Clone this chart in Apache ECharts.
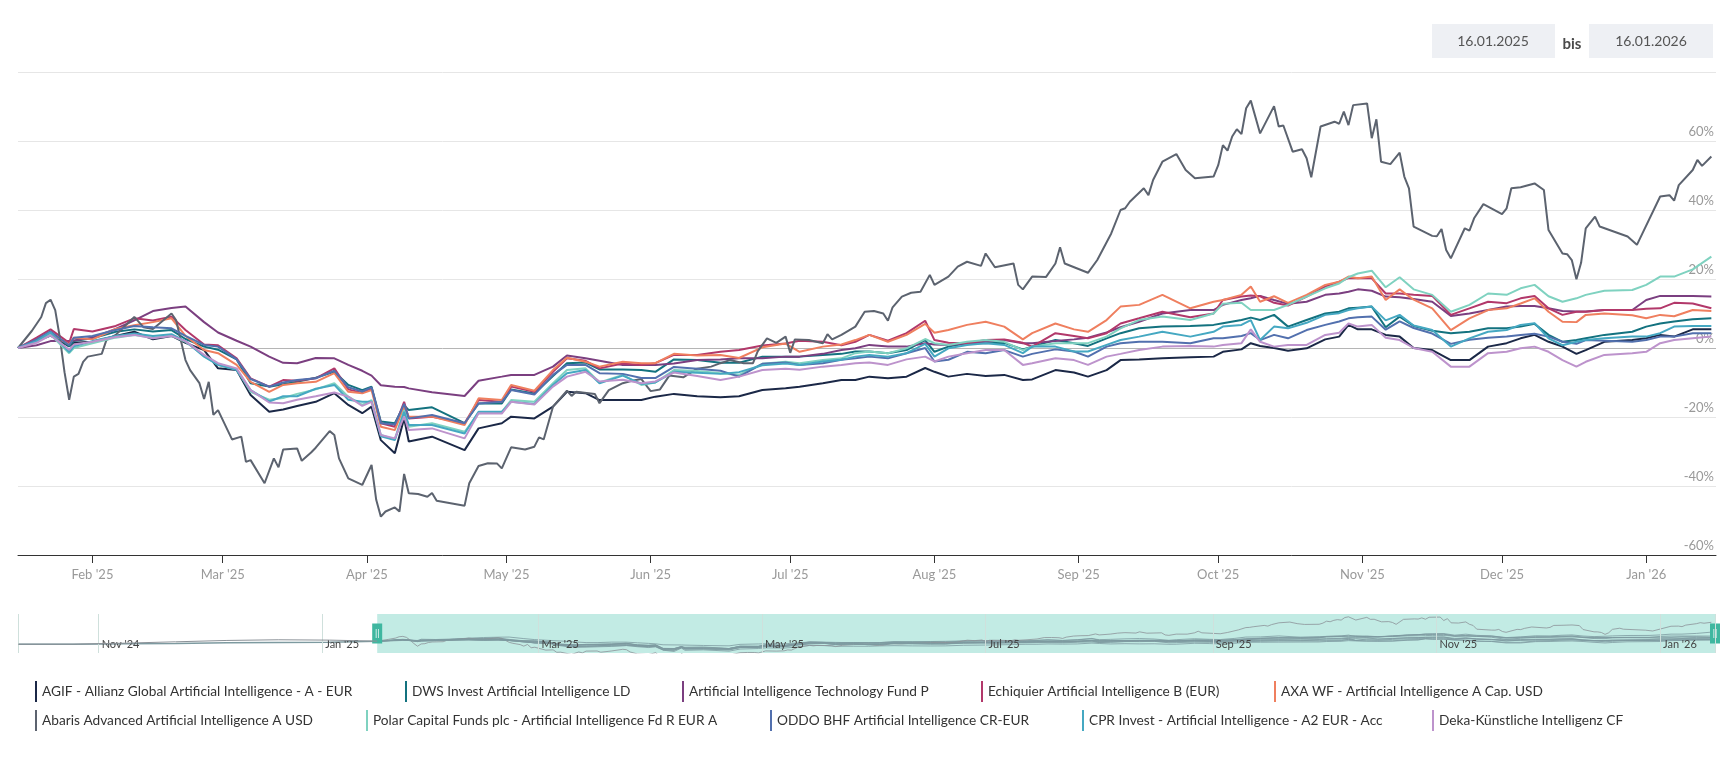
<!DOCTYPE html>
<html>
<head>
<meta charset="utf-8">
<title>KI-Fonds Vergleich</title>
<script src="https://cdn.jsdelivr.net/npm/echarts@6/dist/echarts.min.js"></script>
<style>
  html, body { margin: 0; padding: 0; background: #fff; }
  #main { width: 1725px; height: 767px; }
</style>
</head>
<body>
<div id="main"></div>
<script>
// fund names (legend order) and colours
var fundNames = [
  'AGIF - Allianz Global Artificial Intelligence - A - EUR',
  'DWS Invest Artificial Intelligence LD',
  'Artificial Intelligence Technology Fund P',
  'Echiquier Artificial Intelligence B (EUR)',
  'AXA WF - Artificial Intelligence A Cap. USD',
  'Abaris Advanced Artificial Intelligence A USD',
  'Polar Capital Funds plc - Artificial Intelligence Fd R EUR A',
  'ODDO BHF Artificial Intelligence CR-EUR',
  'CPR Invest - Artificial Intelligence - A2 EUR - Acc',
  'Deka-Künstliche Intelligenz CF'
];
var fundColors = ['#1b2847', '#13727f', '#7b3f80', '#b2386a', '#ef7f5f',
                  '#5c636f', '#7fd2c0', '#5270ae', '#45a8c2', '#bd93cc'];

// shared dates for the nine "bundle" funds
var dates = [
  '2025-01-16','2025-01-20','2025-01-23','2025-01-27','2025-01-28',
  '2025-02-01','2025-02-06','2025-02-10','2025-02-14','2025-02-18','2025-02-21','2025-02-25','2025-02-28',
  '2025-03-04','2025-03-07','2025-03-11','2025-03-14','2025-03-17','2025-03-21','2025-03-25','2025-03-28','2025-03-31',
  '2025-04-02','2025-04-04','2025-04-07','2025-04-09','2025-04-10','2025-04-15','2025-04-22','2025-04-25','2025-04-30',
  '2025-05-02','2025-05-07','2025-05-11','2025-05-14','2025-05-18','2025-05-21','2025-05-26','2025-05-30',
  '2025-06-02','2025-06-06','2025-06-11','2025-06-16','2025-06-20','2025-06-25','2025-06-30',
  '2025-07-03','2025-07-08','2025-07-12','2025-07-15','2025-07-18','2025-07-22','2025-07-26','2025-07-30',
  '2025-08-01','2025-08-04','2025-08-08','2025-08-12','2025-08-16','2025-08-20','2025-08-22','2025-08-27','2025-08-31',
  '2025-09-03','2025-09-07','2025-09-10','2025-09-14','2025-09-19','2025-09-25','2025-09-30',
  '2025-10-02','2025-10-06','2025-10-08','2025-10-10','2025-10-13','2025-10-16','2025-10-20','2025-10-24','2025-10-27','2025-10-29','2025-10-31',
  '2025-11-03','2025-11-06','2025-11-09','2025-11-12','2025-11-16','2025-11-20','2025-11-24','2025-11-28',
  '2025-12-02','2025-12-05','2025-12-08','2025-12-11','2025-12-14','2025-12-17','2025-12-19','2025-12-23','2025-12-29',
  '2026-01-01','2026-01-04','2026-01-07','2026-01-11','2026-01-15'
];

var agif = [
  0, 2, 3.6, 0.5, 1.5,
  1.8, 3.5, 4.7, 2.5, 3.5, 1.5, -0.6, -5.9,
  -6.4, -13.6, -18.5, -17.8, -16.8, -15.6, -13.1, -16.5, -18.9,
  -17, -26.7, -30.5, -20.4, -27.1, -25.7, -29.6, -23.3, -21.8,
  -19.9, -20.4, -17, -12.7, -13.1, -15.1, -15.1, -15.1,
  -14.1, -13.3, -14, -14.3, -14, -12.2, -11.7,
  -11.2, -10.2, -9.3, -9.3, -8.3, -8.8, -8.3, -5.8,
  -6.9, -8.3, -7.5, -8.1, -7.8, -9.3, -9.1, -6.4, -7.1,
  -8.3, -6.4, -3.5, -3.3, -3, -2.7, -2.5,
  -1.1, -0.4, 1.4, 0.6, 0, -0.8, -0.1, 2.5, 3.3, 6.7, 5.4,
  5.4, 3.8, 3.3, 0, -0.6, -3.5, -3.5, 0.4,
  1.4, 2.8, 3.8, 1.8, 0.4, -1.7, -0.6, 1.8, 2.3,
  2.8, 3.8, 3.3, 5.4, 5.4
];
var dws = [
  0, 2.5, 4.3, 0.5, 2,
  2.8, 4.7, 5.4, 4.8, 5.2, 2.6, 0.4, -0.5,
  -3.3, -10.2, -11.2, -10.5, -9.8, -8.6, -6.9, -10.7, -12.2,
  -11.2, -21.3, -21.8, -16.6, -18, -17.2, -21.8, -16.1, -16.1,
  -12, -13.2, -8.1, -4.4, -4.2, -6.2, -6.2, -6.4,
  -6.9, -3.3, -3.5, -4.3, -4.3, -2.5, -2.5,
  -2.5, -2, -1.7, -1, -1, -1.5, -0.6, 2.3,
  -1.1, 0.4, 1.4, 1.4, 1.5, -0.4, 0.4, 2.3, 1.4,
  0.6, 2.8, 4.3, 5.7, 6.2, 6.4, 6.7,
  7.2, 8.1, 8.8, 8.1, 9.6, 6.2, 8.1, 10, 10.5, 11.5, 11.7,
  12, 6, 9.1, 6.4, 5, 4.3, 4.7, 5.7,
  5.7, 6.2, 7, 3.8, 1.8, 2.3, 2.8, 3.8, 4.7,
  6.2, 7.1, 7.7, 8.3, 8.6
];
var aiTech = [
  0, 0.8, 2, 2, 2.2,
  3, 5.5, 8, 10.7, 11.6, 12, 7.5, 4.5,
  2.1, 0.4, -2.5, -4.3, -4.4, -2.9, -3, -4.9, -6.6,
  -8, -10.8, -11.2, -11.3, -11.7, -12.8, -13.9, -9.5, -8.3,
  -7.8, -7.8, -5.4, -2.2, -3, -3.7, -4.9, -4.9,
  -4.9, -4.5, -3.5, -3.3, -3, -3, -2.5,
  -2.5, -1.7, -0.6, -0.1, 0.9, 0.4, 0.4, 1.4,
  1, 0.9, 1.4, 1.8, 2.3, 1.4, 1.4, 2, 2.5,
  3, 4.5, 6, 7.6, 10, 11, 11,
  12.5, 13.9, 14.4, 15.1, 13.9, 12.8, 13.4, 15.4, 15.8, 16.3, 17,
  16.6, 14.9, 14.7, 14.2, 13.4, 9.3, 10, 11,
  12, 12.2, 12.2, 11.5, 10.7, 10.6, 10.6, 11, 11,
  13.9, 15.1, 15.1, 15.1, 14.9
];
var echiquier = [
  0, 3, 5.4, 1.5, 5.5,
  4.8, 6.4, 8.6, 8, 9.1, 5.2, 1, 0.8,
  -3, -8.8, -11.2, -9.3, -9.5, -8.8, -5.9, -12, -13,
  -11.7, -21.8, -22.8, -15.6, -20.4, -19.9, -21.8, -15.1, -15.6,
  -11.2, -12.7, -6.9, -3, -3.7, -5.9, -4.5, -4.9,
  -4.4, -2, -2, -1.1, -0.6, 0.7, 1.3,
  2.1, 1.8, 0.8, 1.8, 3.8, 2.1, 4.3, 7.9,
  2.3, 1.5, 1.4, 2.3, 2.5, 1.5, 0.4, 4.3, 3.5,
  2.8, 4.3, 7.1, 8.6, 10.5, 8.9, 10,
  13.9, 14.9, 15.2, 15, 13.1, 12.3, 14.9, 17.8, 19.2, 20.3, 20.2,
  20.2, 15.8, 15.8, 15.4, 15.1, 9.6, 11.5, 13.4,
  13, 14.4, 15.1, 11.5, 9.6, 10.5, 10.5, 11, 11,
  11.4, 11.5, 13.1, 12.9, 11.5
];
var axa = [
  0, 2, 4.3, 1, 3,
  2.5, 5.5, 6.6, 7.5, 8.6, 3.5, -0.6, -1.5,
  -4.9, -9.8, -12.7, -10.7, -10.2, -9.8, -7.3, -12.7, -13.1,
  -12.2, -22.8, -23.8, -17, -19.9, -19.9, -22.3, -14.6, -15.1,
  -10.7, -12.4, -6.4, -2.8, -4, -5.4, -4, -4.4,
  -4.4, -1.7, -2.2, -2, -2.9, 0.2, 1.3,
  -1.1, 0.4, 1, 2.3, 3.8, 1.8, 3.8, 7,
  4.4, 5.2, 6.7, 7.6, 6.2, 2.5, 4.3, 7.1, 5.4,
  4.7, 8.1, 12, 12.5, 15.4, 11.5, 13.4,
  13.9, 15.4, 17.8, 13.4, 15, 13.1, 15.4, 18.3, 19.2, 20.7, 20.2,
  20.7, 13.9, 17, 14, 11.5, 5.2, 8.6, 11,
  11.5, 12.9, 14.4, 10.5, 7.6, 7.5, 9.6, 10, 9.5,
  8.6, 9.6, 9.2, 11, 10.7
];
var polar = [
  0, 2, 3.8, -1.5, 0,
  1.4, 3, 3.8, 3, 3.6, 1.8, -2.3, -4.9,
  -6.2, -12.7, -15, -14.5, -13.3, -12, -10.2, -14.1, -16.5,
  -15.1, -25.2, -26.5, -18, -22.8, -21.8, -24.3, -18.9, -18.5,
  -15.1, -15.6, -10.2, -6.4, -5.9, -10, -7.8, -10.7,
  -10, -6.4, -6.7, -7.3, -7.8, -4.6, -4,
  -4.4, -3.5, -3, -1.5, -1, -1.5, -0.1, 2.6,
  1.4, 0.9, 1.8, 2.3, 1.8, -0.6, 0.4, 1.4, 1.4,
  1.4, 3.3, 5.7, 8.1, 9.1, 8.1, 10,
  12.8, 13.1, 11, 11, 11, 12.5, 14.9, 17.3, 18.7, 20.5, 21.6,
  22.4, 17.6, 20.5, 17, 15.4, 10.5, 12.5, 15.8,
  15.4, 17.3, 18.3, 15, 13.4, 14.4, 15.4, 16.6, 16.8,
  18.3, 20.7, 20.7, 22.8, 26.5
];
var oddo = [
  0, 2.5, 4.8, 0.8, 3,
  3.5, 5.2, 6.4, 6, 5.7, 3.5, 0.9, 0.4,
  -3.3, -9, -11.2, -10, -9.3, -8.8, -6.6, -11.4, -12.6,
  -11.4, -21.8, -22.2, -16.2, -20.4, -19.4, -21.8, -16.1, -15.6,
  -12.2, -13.5, -7.8, -4.9, -4.9, -7.3, -7.5, -8.7,
  -8.7, -5.5, -6, -6.6, -8.3, -4.6, -4.2,
  -4.9, -4.4, -3.4, -3, -2.5, -3, -1.5, 0,
  -3.9, -3.4, -1.1, -1.5, -0.6, -2.5, -1.7, -0.4, -1,
  -2.5, 0.4, 1.4, 1.8, 1.8, 1.4, 2.8,
  2.8, 3.5, 4.3, 2.3, 3.8, 2.8, 5.2, 6.7, 7.7, 8.6, 8.9,
  9.1, 5.3, 7.7, 5.8, 4.2, 1.2, 2.4, 3,
  3.3, 3.8, 4.1, 3.3, 1.8, 1.2, 2.3, 2.1, 1.8,
  2.3, 3.3, 3.3, 4.3, 4.3
];
var cpr = [
  0, 2, 4.5, -1.2, 0.5,
  2, 3.5, 4.2, 3.5, 4, 2, -2.5, -4.9,
  -6.4, -12.2, -15.5, -14, -14, -11.8, -10.7, -15, -15.6,
  -15.6, -25.6, -26.7, -18.5, -22.3, -22.3, -24.8, -18.5, -18.5,
  -15.6, -16.2, -10.7, -7.3, -6.4, -10.2, -8, -10.4,
  -10, -6.9, -7.2, -7.5, -7, -5, -4.5,
  -4.9, -3.9, -3.4, -2.5, -2, -2.5, -1.5, 1.2,
  -2.5, -0.1, 0.9, 1.4, 0.9, -1.5, 0.4, 0.4, -1,
  -1, 0.9, 2.3, 3.3, 4.7, 3.3, 4.7,
  6.2, 6.7, 8.1, 2.3, 6.2, 5.7, 7.3, 9.6, 10.1, 11, 11.5,
  12, 8, 9.6, 6.5, 5.2, 0.4, 2.8, 4.7,
  5.2, 6.7, 7.2, 2.8, 0.8, 1.8, 2.3, 2.8, 3.3,
  3.3, 4.3, 6.2, 6.4, 6.4
];
var deka = [
  0, 1.5, 3.7, -0.5, 1,
  1.8, 3.2, 3.8, 2.8, 3.5, 2, -2, -4.4,
  -5.9, -12.2, -15.8, -16, -15, -14, -12.9, -14.1, -16.8,
  -15.6, -25.2, -26.2, -19.9, -23.8, -23.3, -26.2, -18.9, -19,
  -15.6, -16.4, -11.2, -8.3, -6.9, -9.7, -9.2, -10.2,
  -9.7, -7.1, -8.1, -9.3, -8.3, -6.4, -6,
  -6.3, -5.4, -4.9, -4.4, -4.2, -4.9, -3.3, -2.5,
  -3.9, -2.5, -1.5, -0.6, -0.6, -4.9, -4.4, -3, -3.5,
  -4.9, -2.5, -1.7, -0.6, 0.4, 0.6, 0.4,
  0.9, 1.4, 5.4, 1.8, 0.4, 0.9, 0.9, 3.8, 4.4, 7.1, 6.2,
  6.7, 3, 2.3, 0, -1.1, -5.4, -5.4, -1.5,
  -1.1, -0.1, 0.4, -1.1, -3.5, -5.4, -4, -2, -1.5,
  -1.1, 1.4, 2.3, 2.8, 3.3
];

// Abaris moves much more, so it keeps its own finer dates
var abarisDates = [
  '2025-01-16','2025-01-19','2025-01-21','2025-01-22','2025-01-23','2025-01-24','2025-01-25','2025-01-26','2025-01-27','2025-01-28','2025-01-29','2025-01-30','2025-01-31',
  '2025-02-03','2025-02-04','2025-02-06','2025-02-10','2025-02-12','2025-02-14','2025-02-18','2025-02-19','2025-02-21','2025-02-22','2025-02-24','2025-02-25','2025-02-26','2025-02-27','2025-02-28',
  '2025-03-03','2025-03-05','2025-03-06','2025-03-07','2025-03-10','2025-03-12','2025-03-13','2025-03-14','2025-03-17','2025-03-18','2025-03-20','2025-03-21','2025-03-24','2025-03-25','2025-03-26','2025-03-28','2025-03-31',
  '2025-04-02','2025-04-03','2025-04-04','2025-04-05','2025-04-07','2025-04-08','2025-04-09','2025-04-10','2025-04-12','2025-04-14','2025-04-15','2025-04-16','2025-04-22','2025-04-23','2025-04-25','2025-04-27','2025-04-29','2025-04-30',
  '2025-05-02','2025-05-05','2025-05-07','2025-05-08','2025-05-09','2025-05-11','2025-05-14','2025-05-15','2025-05-16','2025-05-20','2025-05-21','2025-05-23','2025-05-26','2025-05-28','2025-05-30',
  '2025-06-01','2025-06-03','2025-06-05','2025-06-08','2025-06-11','2025-06-14','2025-06-16','2025-06-18','2025-06-21','2025-06-23','2025-06-24','2025-06-26','2025-06-28','2025-06-30',
  '2025-07-01','2025-07-02','2025-07-05','2025-07-08','2025-07-09','2025-07-10','2025-07-12','2025-07-15','2025-07-17','2025-07-19','2025-07-21','2025-07-22','2025-07-23','2025-07-25','2025-07-27','2025-07-29','2025-07-31',
  '2025-08-01','2025-08-04','2025-08-06','2025-08-08','2025-08-11','2025-08-12','2025-08-14','2025-08-18','2025-08-19','2025-08-20','2025-08-22','2025-08-25','2025-08-27','2025-08-28','2025-08-29',
  '2025-09-03','2025-09-05','2025-09-08','2025-09-10','2025-09-11','2025-09-12','2025-09-15','2025-09-16','2025-09-17','2025-09-19','2025-09-22','2025-09-24','2025-09-26','2025-09-30',
  '2025-10-01','2025-10-02','2025-10-03','2025-10-04','2025-10-05','2025-10-06','2025-10-07','2025-10-08','2025-10-10','2025-10-13','2025-10-14','2025-10-15','2025-10-17','2025-10-19','2025-10-20','2025-10-21','2025-10-23','2025-10-26','2025-10-27','2025-10-28','2025-10-29','2025-10-30',
  '2025-11-02','2025-11-03','2025-11-04','2025-11-05','2025-11-07','2025-11-09','2025-11-10','2025-11-11','2025-11-12','2025-11-16','2025-11-17','2025-11-18','2025-11-19','2025-11-20','2025-11-23','2025-11-24','2025-11-25','2025-11-27',
  '2025-12-01','2025-12-02','2025-12-03','2025-12-05','2025-12-08','2025-12-10','2025-12-11','2025-12-14','2025-12-15','2025-12-16','2025-12-17','2025-12-18','2025-12-19','2025-12-21','2025-12-22','2025-12-28','2025-12-30',
  '2026-01-04','2026-01-06','2026-01-07','2026-01-08','2026-01-11','2026-01-12','2026-01-13','2026-01-15'
];
var abaris = [
  0, 5, 9, 13, 14, 11, 3, -7, -15, -8.3, -7.5, -4, -2.5,
  -1.7, 2.3, 3.8, 9, 6, 5.5, 10, 8, -3.5, -6.4, -10.2, -14.8, -9.8, -19.4, -18,
  -26.5, -25.7, -33, -32.5, -39.2, -32, -34.6, -29.4, -29.1, -32.7, -30.3, -28.9, -24.1, -25.2, -32, -37.8, -39.7,
  -33.9, -44, -48.9, -47.4, -46.2, -47.4, -36.5, -42.1, -42.3, -43.1, -42, -44.3, -45.7, -39.2, -34.2, -33.4, -33.5, -34.9,
  -28.8, -29.4, -28.6, -25.9, -26.5, -17, -12.4, -13.9, -12.7, -13.3, -16, -12.2, -10.2, -9.5, -9,
  -12.5, -12, -8, -8.5, -6, -5.4, -4.4, -3.5, -4.4, -4.4, -1, 2.8, 1.5, 3.3,
  -1.4, 2.5, 2.3, 1.4, 4, 2.5, 3.8, 6.2, 10.5, 10.7, 10, 7.9, 11.8, 14.9, 16, 16.3, 21.2,
  18.3, 20.7, 23.6, 25, 23.8, 27.4, 23.4, 24.5, 18.3, 17, 20.7, 20.6, 24.5, 29.2, 24.5,
  21.8, 25.5, 33.2, 40, 40.5, 42.4, 46.3, 44.3, 48.7, 54, 56.2, 51.6, 49.2, 49.7,
  53, 58.8, 57.2, 61.3, 63.4, 62, 69.5, 71.7, 62.2, 70.1, 64.2, 64.5, 56.9, 57.6, 55, 49.5, 64.2, 65.6, 65, 68.5, 64.6, 70.4,
  70.9, 60.8, 66.3, 54, 53.3, 56.6, 49.7, 46.3, 35.2, 32.5, 32.4, 34.5, 28.4, 26, 34.7, 34, 37.6, 41.7,
  38.8, 40.5, 46.3, 46.6, 47.7, 45.8, 34.2, 27.4, 27.2, 25.5, 19.9, 24.7, 34.7, 38.1, 35.2, 32.3, 29.9,
  43.9, 44.3, 42.7, 47.2, 51.6, 54.5, 52.8, 55.5
];

// navigator only: the months before the selected range
var navPreDates = ['2024-10-10','2024-10-25','2024-11-08','2024-11-22','2024-12-06','2024-12-20','2025-01-03','2025-01-16'];
var navPreBundle = [-9, -9, -8, -7, -5, -4, -3, 0];
var navPreAbaris = [-9, -9, -6, -2, 2, 4, 3, 0];

var rangeStart = '2025-01-16';
var rangeEnd = '2026-01-16';
var yTicks = [-60, -40, -20, 0, 20, 40, 60, 80];

var DAY = 24 * 3600 * 1000;
var monthNames = ['Jan','Feb','Mar','Apr','May','Jun','Jul','Aug','Sep','Oct','Nov','Dec'];
function monthLabel(v) {
  var d = new Date(v);
  return monthNames[d.getMonth()] + " '" + String(d.getFullYear()).slice(2);
}
function pairs(ds, vs) {
  return ds.map(function (d, i) { return [d, vs[i]]; });
}

var bundle = [agif, dws, aiTech, echiquier, axa, null, polar, oddo, cpr, deka];
var fundData = bundle.map(function (vals) {
  return vals ? pairs(dates, vals) : pairs(abarisDates, abaris);
});

var chartDom = document.getElementById('main');
var myChart = echarts.init(chartDom);

var series = [];
fundNames.forEach(function (name, i) {
  series.push({
    name: name,
    type: 'line',
    data: fundData[i],
    showSymbol: false,
    symbol: 'none',
    color: fundColors[i],
    lineStyle: { width: 2 },
    z: 3,
    silent: true
  });
});

// navigator (small overview strip)
series.push({
  name: 'nav-pre',
  type: 'line',
  xAxisIndex: 1,
  yAxisIndex: 1,
  data: pairs(navPreDates, navPreBundle),
  symbol: 'none',
  color: '#7d9aa0',
  lineStyle: { width: 1.5 },
  z: 1,
  silent: true,
  markArea: {
    silent: true,
    itemStyle: { color: '#c2ebe4' },
    data: [[{ xAxis: rangeStart }, { xAxis: rangeEnd }]]
  }
});
series.push({
  name: 'nav-pre-abaris',
  type: 'line',
  xAxisIndex: 1,
  yAxisIndex: 1,
  data: pairs(navPreDates, navPreAbaris),
  symbol: 'none',
  color: '#8c9298',
  lineStyle: { width: 1 },
  z: 12,
  silent: true,
  markPoint: {
    silent: true,
    symbol: 'rect',
    symbolSize: [10, 20],
    itemStyle: { color: '#3fb7a0' },
    label: { show: true, formatter: '||', color: '#fff', fontSize: 9, position: 'inside' },
    data: [{ coord: [rangeStart, 22.5] }, { coord: [rangeEnd, 22.5] }]
  }
});
fundNames.forEach(function (name, i) {
  series.push({
    name: 'nav-' + i,
    type: 'line',
    xAxisIndex: 1,
    yAxisIndex: 1,
    data: fundData[i],
    symbol: 'none',
    color: i === 5 ? '#8c9298' : '#7d9aa0',
    lineStyle: { width: 1, opacity: 0.8 },
    z: 2,
    silent: true
  });
});

var legends = [
  [35, 681], [405, 681], [682, 681], [981, 681], [1274, 681],
  [35, 710], [366, 710], [770, 710], [1082, 710], [1432, 710]
].map(function (p, i) {
  return {
    data: [fundNames[i]],
    left: p[0],
    top: p[1],
    padding: 0,
    icon: 'rect',
    itemWidth: 2,
    itemHeight: 21,
    selectedMode: false,
    textStyle: { color: '#333', fontSize: 13.7, fontFamily: 'Lato' }
  };
});

var gridColor = '#e6e6e6';
var option = {
  animation: false,
  textStyle: { fontFamily: 'Lato, sans-serif' },
  legend: legends,
  grid: [
    { left: 18, right: 9, top: 72, bottom: 212 },
    { left: 18, right: 10, top: 614, height: 39 }
  ],
  xAxis: [
    {
      type: 'time',
      gridIndex: 0,
      min: rangeStart,
      max: rangeEnd,
      minInterval: 30 * DAY,
      maxInterval: 30 * DAY,
      axisLine: { onZero: false, lineStyle: { color: '#333', width: 1 } },
      axisTick: { show: true, length: 8, lineStyle: { color: '#333' } },
      axisLabel: { color: '#999', fontSize: 13, margin: 13, formatter: monthLabel, showMinLabel: false, showMaxLabel: false },
      splitLine: { show: false },
      z: 5
    },
    {
      type: 'time',
      gridIndex: 1,
      min: '2024-10-10',
      max: rangeEnd,
      minInterval: 65 * DAY,
      maxInterval: 65 * DAY,
      axisLine: { show: false, onZero: false },
      axisTick: { show: false },
      axisLabel: { inside: true, color: '#444', fontSize: 11, align: 'left', margin: 3, padding: [0, 0, 0, 3], formatter: monthLabel, showMinLabel: false, showMaxLabel: false },
      splitLine: { show: true, lineStyle: { color: '#cfe0dc' } },
      z: 10
    }
  ],
  yAxis: [
    {
      type: 'value',
      gridIndex: 0,
      position: 'right',
      min: yTicks[0],
      max: yTicks[yTicks.length - 1],
      interval: 20,
      axisLine: { show: false },
      axisTick: { show: false },
      axisLabel: {
        inside: true,
        color: '#999',
        fontSize: 13,
        margin: 2,
        verticalAlign: 'bottom',
        padding: [0, 0, 3, 0],
        formatter: function (v) { return v === 80 ? '' : v + '%'; }
      },
      splitLine: {
        lineStyle: {
          color: yTicks.map(function (t) { return t === 0 ? '#b5b5b5' : gridColor; })
        }
      }
    },
    { type: 'value', gridIndex: 1, min: -35, max: 80, show: false }
  ],
  graphic: [
    { type: 'rect', left: 1432, top: 24, shape: { width: 123, height: 34 }, style: { fill: '#eef0f4' } },
    { type: 'text', x: 1493, y: 41, style: { text: '16.01.2025', fill: '#555', font: '14px Lato', align: 'center', verticalAlign: 'middle' } },
    { type: 'text', x: 1572, y: 44, style: { text: 'bis', fill: '#4a4a4a', font: 'bold 15px Lato', align: 'center', verticalAlign: 'middle' } },
    { type: 'rect', left: 1589, top: 24, shape: { width: 124, height: 34 }, style: { fill: '#eef0f4' } },
    { type: 'text', x: 1651, y: 41, style: { text: '16.01.2026', fill: '#555', font: '14px Lato', align: 'center', verticalAlign: 'middle' } }
  ],
  series: series
};

option && myChart.setOption(option);
</script>
</body>
</html>
